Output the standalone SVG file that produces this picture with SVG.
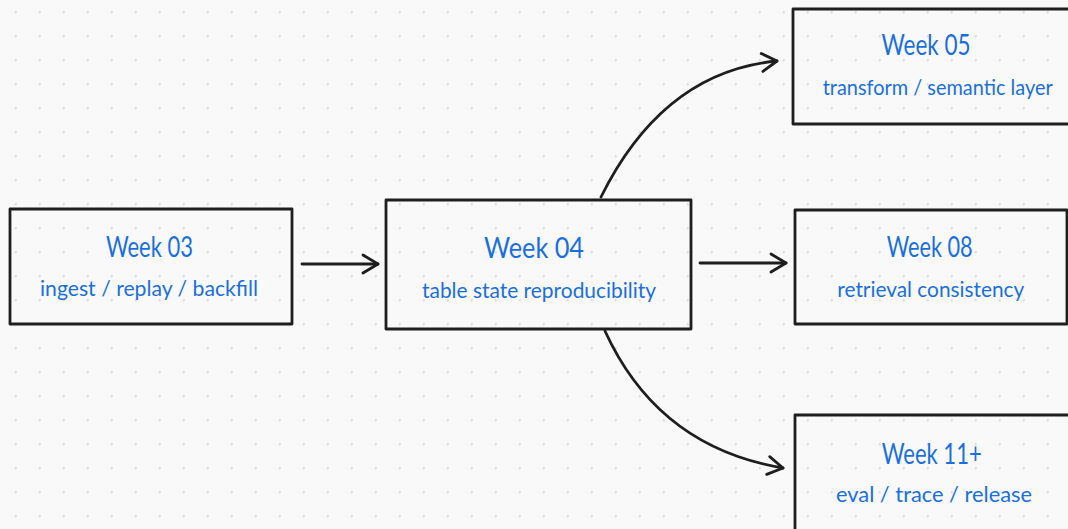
<svg xmlns="http://www.w3.org/2000/svg" width="1068" height="529" viewBox="0 0 1068 529">
  <defs>
    <pattern id="dots" x="3.7" y="0.3" width="24" height="24" patternUnits="userSpaceOnUse">
      <circle cx="12" cy="12" r="1.2" fill="#d9d9d9"/>
    </pattern>
    <marker id="arrow" viewBox="-20 -12 24 24" refX="0" refY="0" markerWidth="24" markerHeight="24" markerUnits="userSpaceOnUse" orient="auto">
      <path d="M-15,-9 L0,0 L-15,9" fill="none" stroke="#1e1e1e" stroke-width="2.8" stroke-linecap="round" stroke-linejoin="round"/>
    </marker>
    <style>
      .box { fill: none; stroke: #1e1e1e; stroke-width: 2.8; stroke-linejoin: round; }
      .title { font-family: Lato, "Open Sans", "Liberation Sans", sans-serif; font-size: 29px; fill: #1a6fe0; text-anchor: middle; }
      .sub { font-family: Lato, "Open Sans", "Liberation Sans", sans-serif; font-size: 21px; fill: #1a6fe0; text-anchor: middle; }
      .edge { fill: none; stroke: #1e1e1e; stroke-width: 2.8; stroke-linecap: round; marker-end: url(#arrow); }
    </style>
  </defs>

  <!-- canvas with dot grid -->
  <rect width="1068" height="529" fill="#f9f9f9"/>
  <rect width="1068" height="529" fill="url(#dots)"/>

  <!-- connectors -->
  <g id="connectors">
    <path class="edge" d="M302,264 L378,264"/>
    <path class="edge" d="M700,263 L786,263"/>
    <path class="edge" d="M601,197 Q663,72 777,61"/>
    <path class="edge" d="M605,331 Q658,447 783,468"/>
  </g>

  <g id="week03">
    <rect class="box" x="10" y="209" width="282" height="115"/>
    <text class="title" x="149.5" y="257" textLength="87" lengthAdjust="spacingAndGlyphs">Week 03</text>
    <text class="sub" x="149" y="296" textLength="218" lengthAdjust="spacingAndGlyphs">ingest / replay / backfill</text>
  </g>

  <g id="week04">
    <rect class="box" x="386" y="200" width="305" height="129"/>
    <text class="title" x="534" y="258" textLength="100" lengthAdjust="spacingAndGlyphs">Week 04</text>
    <text class="sub" x="539" y="298" textLength="234" lengthAdjust="spacingAndGlyphs">table state reproducibility</text>
  </g>

  <g id="week05">
    <rect class="box" x="793" y="9" width="289" height="115"/>
    <text class="title" x="926" y="55" textLength="89" lengthAdjust="spacingAndGlyphs">Week 05</text>
    <text class="sub" x="937.7" y="95" textLength="230" lengthAdjust="spacingAndGlyphs">transform / semantic layer</text>
  </g>

  <g id="week08">
    <rect class="box" x="795" y="210" width="272" height="114"/>
    <text class="title" x="929.7" y="257" textLength="86" lengthAdjust="spacingAndGlyphs">Week 08</text>
    <text class="sub" x="930.8" y="297" textLength="187" lengthAdjust="spacingAndGlyphs">retrieval consistency</text>
  </g>

  <g id="week11">
    <rect class="box" x="795" y="415" width="278" height="130"/>
    <text class="title" x="931.7" y="464" textLength="100" lengthAdjust="spacingAndGlyphs">Week 11+</text>
    <text class="sub" x="934" y="502" textLength="196" lengthAdjust="spacingAndGlyphs">eval / trace / release</text>
  </g>
</svg>
